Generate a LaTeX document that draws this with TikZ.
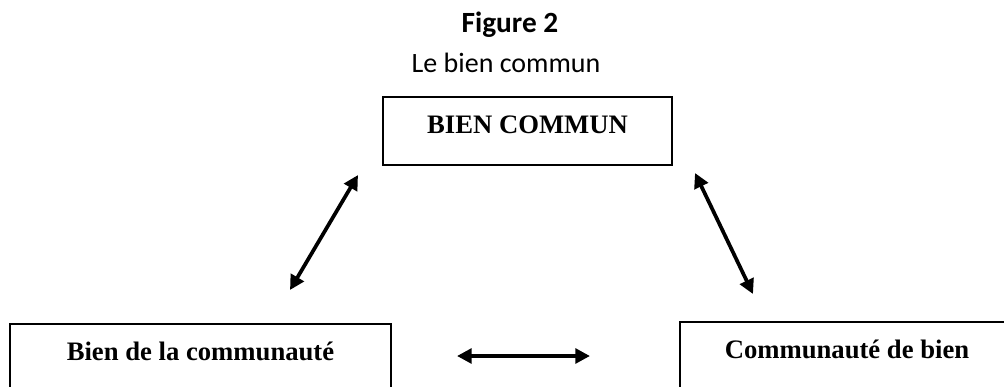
\documentclass[tikz,border=0pt]{standalone}
\usepackage{fontspec}
\setmainfont{Liberation Serif}
\newfontfamily\capfont{Carlito}
\usetikzlibrary{arrows.meta}
\tikzset{conceptbox/.style={draw, line width=1.3pt, minimum height=51pt,
         text height=12pt, text depth=9pt, inner sep=0pt,
         font=\fontsize{20}{24}\selectfont\bfseries}}
\tikzset{linkarrow/.style={line width=2.8pt,
         {Triangle[length=11pt,width=11pt]}-{Triangle[length=11pt,width=11pt]}}}

\begin{document}
\begin{tikzpicture}[x=0.75pt,y=-0.75pt]
\useasboundingbox (0,0) rectangle (1004,386);
\clip (0,0) rectangle (1004,386);

\node [anchor=base, font=\capfont\bfseries\fontsize{22}{26}\selectfont] (fig) at (510,32) {Figure 2};
\node [anchor=base, font=\capfont\fontsize{21}{25}\selectfont] (title) at (506,72) {Le bien commun};

\node [conceptbox, minimum width=216.75pt] (bc) at (527.5,131) {BIEN COMMUN};
\node [conceptbox, minimum width=285.75pt] (bdc) at (200.5,358) {Bien de la communauté};
\node [conceptbox, minimum width=250.5pt] (cdb) at (847,356) {Communauté de bien};

% arrow ends
\coordinate (lup) at (358,175);
\coordinate (ldown) at (290,290);
\coordinate (rup) at (695,173);
\coordinate (rdown) at (753,294);
\coordinate (hleft) at (457,356);
\coordinate (hright) at (590,356);

\draw [linkarrow] (ldown) -- (lup);
\draw [linkarrow] (rup) -- (rdown);
\draw [linkarrow] (hleft) -- (hright);

\end{tikzpicture}
\end{document}
